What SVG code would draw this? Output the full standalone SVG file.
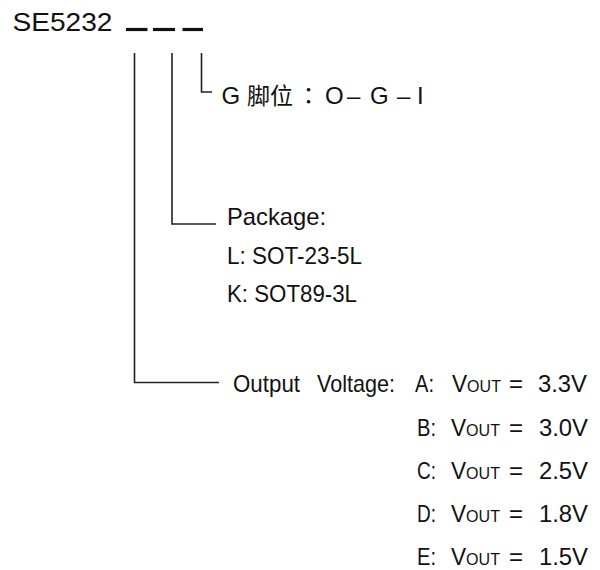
<svg xmlns="http://www.w3.org/2000/svg" width="600" height="570" viewBox="0 0 600 570">
<style>
text{font-family:"Liberation Sans",Arial,"Noto Sans CJK SC",sans-serif;font-size:24px;fill:#111}
.t{font-size:25px}
.cjk{font-family:"Noto Sans CJK TC","Noto Sans CJK SC",sans-serif;font-size:23px}
.s{font-size:17px}
.ln{stroke:#222;stroke-width:1.6;fill:none}
.dash{stroke:#111;stroke-width:3.2}
</style>
<rect width="600" height="570" fill="#fff"/>
<g id="title">
<text class="t" x="12.5" y="30.5" textLength="100" lengthAdjust="spacingAndGlyphs">SE5232</text>
<line class="dash" x1="126" y1="29.5" x2="147.5" y2="29.5"/>
<line class="dash" x1="153" y1="29.5" x2="175" y2="29.5"/>
<line class="dash" x1="182.5" y1="29.5" x2="203" y2="29.5"/>
</g>
<g id="connectors">
<polyline class="ln" points="134.5,53 134.5,382.5 219,382.5"/>
<polyline class="ln" points="172,53 172,224 216,224"/>
<polyline class="ln" points="201.5,53 201.5,92 212,92"/>
</g>
<g id="pin">
<text x="221.5" y="104">G</text>
<text class="cjk" x="247" y="104">脚位</text>
<text class="cjk" x="297" y="104">：</text>
<text x="325" y="104">O</text>
<text x="347" y="104">–</text>
<text x="370" y="104">G</text>
<text x="397" y="104">–</text>
<text x="417" y="104">I</text>
</g>
<g id="package">
<text x="227" y="225" textLength="99" lengthAdjust="spacingAndGlyphs">Package:</text>
<text x="227" y="264" textLength="135" lengthAdjust="spacingAndGlyphs">L: SOT-23-5L</text>
<text x="227" y="302" textLength="130" lengthAdjust="spacingAndGlyphs">K: SOT89-3L</text>
</g>
<g id="voltage">
<text x="233" y="392" textLength="67" lengthAdjust="spacingAndGlyphs">Output</text>
<text x="317" y="392" textLength="78" lengthAdjust="spacingAndGlyphs">Voltage:</text>
<text x="415" y="392" textLength="19" lengthAdjust="spacingAndGlyphs">A:</text>
<text x="452" y="392" textLength="49" lengthAdjust="spacingAndGlyphs">V<tspan class="s">OUT</tspan></text>
<text x="509" y="392">=</text>
<text x="538" y="392" textLength="49" lengthAdjust="spacingAndGlyphs">3.3V</text>
<text x="417" y="436" textLength="19" lengthAdjust="spacingAndGlyphs">B:</text>
<text x="451" y="436" textLength="49" lengthAdjust="spacingAndGlyphs">V<tspan class="s">OUT</tspan></text>
<text x="509" y="436">=</text>
<text x="539" y="436" textLength="49" lengthAdjust="spacingAndGlyphs">3.0V</text>
<text x="417" y="479" textLength="19" lengthAdjust="spacingAndGlyphs">C:</text>
<text x="451" y="479" textLength="49" lengthAdjust="spacingAndGlyphs">V<tspan class="s">OUT</tspan></text>
<text x="509" y="479">=</text>
<text x="539" y="479" textLength="49" lengthAdjust="spacingAndGlyphs">2.5V</text>
<text x="417" y="522" textLength="19" lengthAdjust="spacingAndGlyphs">D:</text>
<text x="451" y="522" textLength="49" lengthAdjust="spacingAndGlyphs">V<tspan class="s">OUT</tspan></text>
<text x="509" y="522">=</text>
<text x="539" y="522" textLength="49" lengthAdjust="spacingAndGlyphs">1.8V</text>
<text x="417" y="565" textLength="19" lengthAdjust="spacingAndGlyphs">E:</text>
<text x="451" y="565" textLength="49" lengthAdjust="spacingAndGlyphs">V<tspan class="s">OUT</tspan></text>
<text x="509" y="565">=</text>
<text x="539" y="565" textLength="49" lengthAdjust="spacingAndGlyphs">1.5V</text>
</g>
</svg>
